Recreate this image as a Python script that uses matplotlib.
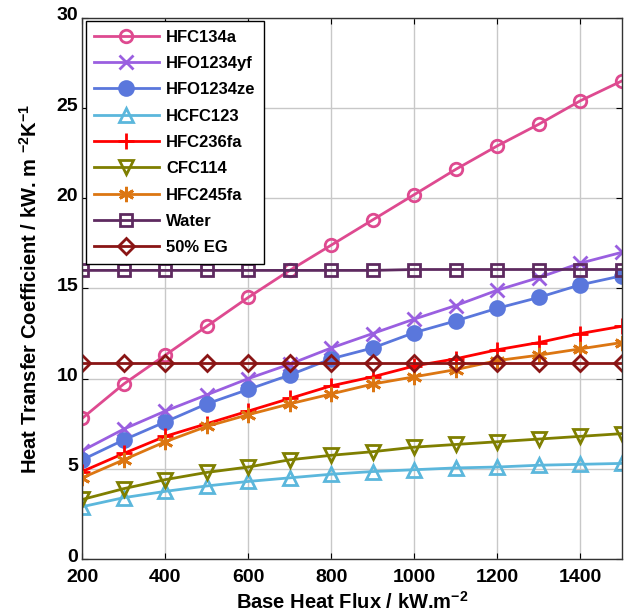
import matplotlib
matplotlib.use("Agg")
import matplotlib.pyplot as plt
from matplotlib.transforms import ScaledTranslation

plt.rcParams['font.family'] = ['Liberation Sans', 'DejaVu Sans']
plt.rcParams['font.weight'] = 'bold'
plt.rcParams['mathtext.fontset'] = 'custom'
plt.rcParams['mathtext.rm'] = 'Liberation Sans:bold'
plt.rcParams['mathtext.bf'] = 'Liberation Sans:bold'
plt.rcParams['mathtext.default'] = 'bf'

heat_flux = [200, 300, 400, 500, 600, 700, 800, 900, 1000, 1100, 1200, 1300, 1400, 1500]

hfc134a = [7.8, 9.7, 11.3, 12.9, 14.5, 16.0, 17.4, 18.8, 20.2, 21.6, 22.9, 24.1, 25.4, 26.5]
hfo1234yf = [6.0, 7.2, 8.2, 9.1, 10.0, 10.8, 11.7, 12.5, 13.3, 14.05, 14.9, 15.6, 16.4, 17.0]
hfo1234ze = [5.5, 6.6, 7.6, 8.6, 9.4, 10.2, 11.1, 11.7, 12.55, 13.2, 13.9, 14.5, 15.2, 15.7]
hcfc123 = [2.9, 3.4, 3.75, 4.05, 4.3, 4.5, 4.7, 4.85, 4.95, 5.05, 5.1, 5.2, 5.25, 5.3]
hfc236fa = [4.85, 5.85, 6.8, 7.5, 8.2, 8.9, 9.6, 10.1, 10.7, 11.1, 11.6, 12.0, 12.5, 12.9]
cfc114 = [3.3, 3.9, 4.4, 4.8, 5.1, 5.5, 5.75, 5.95, 6.2, 6.35, 6.5, 6.65, 6.8, 6.95]
hfc245fa = [4.5, 5.5, 6.5, 7.35, 8.0, 8.6, 9.15, 9.7, 10.1, 10.5, 11.0, 11.3, 11.65, 12.0]
water = [16.0, 16.0, 16.0, 16.0, 16.0, 16.0, 16.0, 16.0, 16.05, 16.05, 16.05, 16.05, 16.05, 16.05]
eg50 = [10.85] * 14

series = [
    ("HFC134a", hfc134a, "#DE4A90", "o", "none", 9),
    ("HFO1234yf", hfo1234yf, "#9A5FE0", "x", None, 10),
    ("HFO1234ze", hfo1234ze, "#5A77DC", "o", "#5A77DC", 10),
    ("HCFC123", hcfc123, "#5BB7DC", "^", "none", 10),
    ("HFC236fa", hfc236fa, "#FF0000", "+", None, 12),
    ("CFC114", cfc114, "#7F7F00", "v", "none", 10),
    ("HFC245fa", hfc245fa, "#DC7612", (6, 2, 0), None, 11),
    ("Water", water, "#5E2A60", "s", "none", 9),
    ("50% EG", eg50, "#8A1515", "D", "none", 8),
]

fig = plt.figure(figsize=(6.37, 6.16), dpi=100)
ax = fig.add_axes([0.129, 0.0925, 0.847, 0.8785])

for name, vals, color, marker, face, ms in series:
    kw = dict(color=color, marker=marker, markersize=ms, markeredgewidth=2.0,
              linewidth=2.0, label=name)
    if face is not None:
        kw['markerfacecolor'] = face
    ax.plot(heat_flux, vals, **kw)

ax.set_xlim(200, 1500)
ax.set_ylim(0, 30)
ax.set_xticks([200, 400, 600, 800, 1000, 1200, 1400])
ax.set_yticks([0, 5, 10, 15, 20, 25, 30])
ax.grid(True, color="#C8C8C8", linewidth=1.0)
ax.set_axisbelow(True)
ax.tick_params(direction='in', length=4, top=True, right=True, labelsize=14)
ax.tick_params(axis='x', pad=7)
ax.tick_params(axis='y', pad=3)
for s in ax.spines.values():
    s.set_color("#333333")
    s.set_linewidth(1.0)

# y tick labels sit slightly above their gridlines
raise_labels = ScaledTranslation(0, 4 / 100, fig.dpi_scale_trans)
for tick in ax.yaxis.get_major_ticks():
    tick.label1.set_transform(tick.label1.get_transform() + raise_labels)
for lbl in ax.get_xticklabels() + ax.get_yticklabels():
    lbl.set_fontweight('bold')

ax.set_xlabel(r"Base Heat Flux / kW.m$^{-2}$", fontsize=14.5, fontweight='bold', labelpad=4)
ax.set_ylabel(r"Heat Transfer Coefficient / kW. m $^{-2}$K$^{-1}$",
              fontsize=14.5, fontweight='bold', labelpad=11)

leg = ax.legend(loc='upper left', prop={'size': 12, 'weight': 'bold'},
                handlelength=3.9, handletextpad=0.45, borderpad=0.5,
                borderaxespad=0.2, labelspacing=0.68, fancybox=False,
                framealpha=1.0, edgecolor='black')
leg.get_frame().set_linewidth(1.0)

fig.savefig("out.png", dpi=100)
